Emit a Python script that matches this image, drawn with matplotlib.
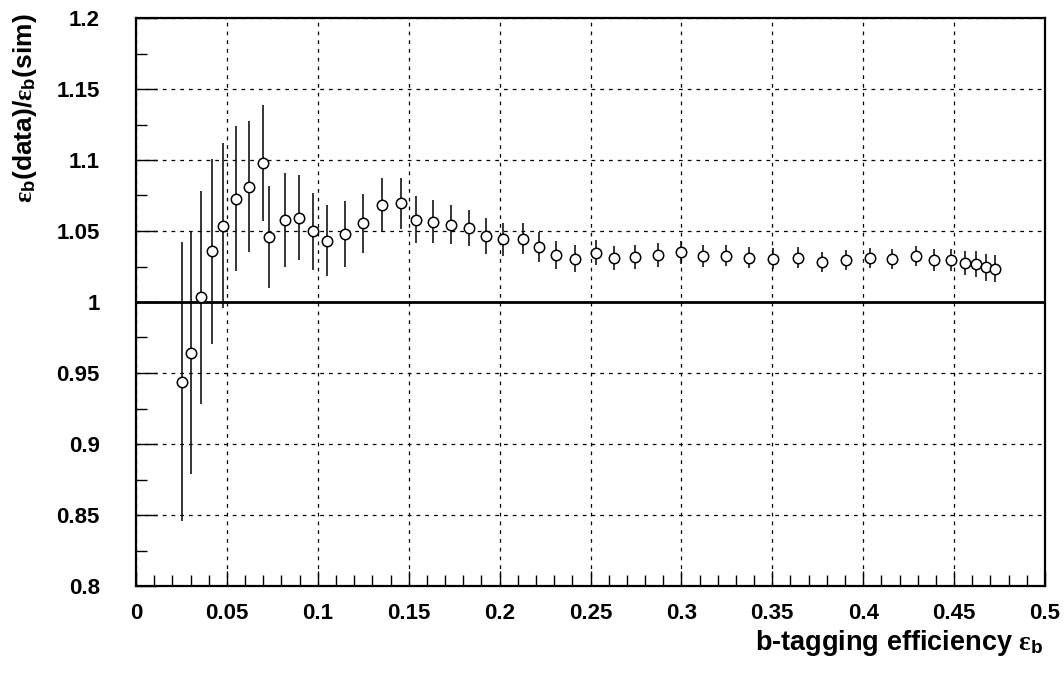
import numpy as np
import matplotlib
matplotlib.use("Agg")
import matplotlib.pyplot as plt
from matplotlib.ticker import MultipleLocator

plt.rcParams['font.family'] = ['Liberation Sans', 'DejaVu Sans']
plt.rcParams['font.weight'] = 'bold'
plt.rcParams['mathtext.fontset'] = 'custom'
plt.rcParams['mathtext.rm'] = 'Liberation Serif'
plt.rcParams['mathtext.it'] = 'Liberation Serif:italic'
plt.rcParams['mathtext.bf'] = 'Liberation Sans:bold'

# b-tagging efficiency (x) and data/sim ratio (y) with errors
eff = [0.0253, 0.0300, 0.0355, 0.0417, 0.0480, 0.0549, 0.0619, 0.0696,
       0.0733, 0.0817, 0.0898, 0.0973, 0.1052, 0.1147, 0.1246, 0.1354,
       0.1455, 0.1540, 0.1635, 0.1732, 0.1829, 0.1925, 0.2020, 0.2126,
       0.2218, 0.2310, 0.2412, 0.2530, 0.2632, 0.2746, 0.2871, 0.2999,
       0.3118, 0.3245, 0.3373, 0.3505, 0.3639, 0.3771, 0.3905, 0.4040,
       0.4161, 0.4290, 0.4387, 0.4481, 0.4558, 0.4622, 0.4677, 0.4723]
ratio = [0.944, 0.964, 1.0035, 1.0357, 1.0538, 1.0728, 1.0813, 1.0977,
         1.046, 1.0578, 1.0594, 1.0498, 1.0432, 1.0479, 1.0554, 1.0686,
         1.0695, 1.0578, 1.0566, 1.0545, 1.0521, 1.0465, 1.0441, 1.0446,
         1.0385, 1.0331, 1.0306, 1.0348, 1.031, 1.0315, 1.0331, 1.035,
         1.0323, 1.0327, 1.0313, 1.0306, 1.0313, 1.0284, 1.0296, 1.031,
         1.0301, 1.0324, 1.0296, 1.0296, 1.0277, 1.0268, 1.0244, 1.0235]
ratio_err = [0.098, 0.085, 0.075, 0.065, 0.058, 0.051, 0.046, 0.041,
             0.036, 0.033, 0.030, 0.027, 0.025, 0.023, 0.021, 0.019,
             0.018, 0.0165, 0.015, 0.014, 0.013, 0.0125, 0.0115, 0.011,
             0.0105, 0.0097, 0.0093, 0.009, 0.0087, 0.0085, 0.0082, 0.008,
             0.0078, 0.0075, 0.0073, 0.0072, 0.0071, 0.007, 0.007, 0.007,
             0.0071, 0.0073, 0.0075, 0.008, 0.0085, 0.009, 0.0095, 0.0095]
eff_err = [0.0] * 44 + [0.0015, 0.0015, 0.0018, 0.002]

fig = plt.figure(figsize=(10.64, 6.76), dpi=100)
ax = fig.add_axes([136 / 1064, 1 - 586 / 676, 909 / 1064, 568 / 676])

ax.set_xlim(0, 0.5)
ax.set_ylim(0.8, 1.2)

ax.grid(True, which='major', color='black', linestyle=(0, (3, 4)), linewidth=0.9)
ax.axhline(1.0, color='black', linewidth=2, zorder=2)

ax.errorbar(eff, ratio, yerr=ratio_err, xerr=eff_err, fmt='o', ms=7.5,
            mfc='white', mec='black', mew=1.1, ecolor='black', elinewidth=1.1,
            capsize=0, zorder=3)

ax.xaxis.set_major_locator(MultipleLocator(0.05))
ax.xaxis.set_minor_locator(MultipleLocator(0.01))
ax.yaxis.set_major_locator(MultipleLocator(0.05))
ax.yaxis.set_minor_locator(MultipleLocator(0.025))
ax.xaxis.set_major_formatter(plt.FuncFormatter(lambda v, p: ('%g' % round(v, 3))))
ax.yaxis.set_major_formatter(plt.FuncFormatter(lambda v, p: ('%g' % round(v, 3))))

ax.tick_params(which='both', direction='in', top=False, right=False, labelsize=16)
ax.tick_params(axis='x', which='major', length=11, width=1, pad=12)
ax.tick_params(axis='x', which='minor', length=8, width=1)
ax.tick_params(axis='y', which='major', length=15, width=1, pad=26)
ax.tick_params(axis='y', which='minor', length=8, width=1)
for lbl in ax.get_xticklabels() + ax.get_yticklabels():
    lbl.set_fontweight('bold')

for s in ax.spines.values():
    s.set_linewidth(1.6)

ax.set_xlabel(r'b-tagging efficiency $\mathrm{\varepsilon}_{\mathbf{b}}$', fontsize=19.5,
              fontweight='bold', ha='right', va='baseline')
ax.xaxis.set_label_coords(0.998, -0.1127)
ax.set_ylabel(r'$\mathrm{\varepsilon}_{\mathbf{b}}$(data)/$\mathrm{\varepsilon}_{\mathbf{b}}$(sim)',
              fontsize=19, fontweight='bold', ha='right')
ax.yaxis.set_label_coords(-0.107, 1.0088)

fig.savefig('out.png', dpi=100)
